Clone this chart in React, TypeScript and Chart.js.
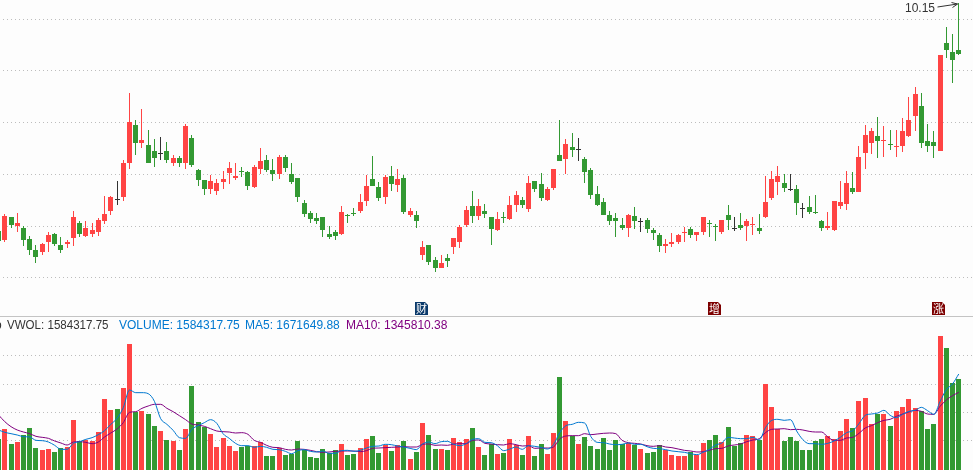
import React, { useEffect, useRef } from "react";
import { Chart, registerables } from "chart.js";

Chart.register(...registerables);

// Daily candles, prices
const opens = [
  5.59,5.41,5.87,5.69,5.65,5.43,5.21,5.17,5.37,5.53,
  5.31,5.33,5.45,5.75,5.49,5.53,5.57,5.79,5.99,6.23,
  6.27,6.95,7.71,7.35,7.31,7.19,7.15,7.19,6.95,7.05,
  6.95,7.45,6.81,6.61,6.43,6.39,6.57,6.75,6.65,6.79,
  6.77,6.47,6.83,7.01,6.81,6.73,7.07,6.73,6.65,6.15,
  5.95,5.85,5.87,5.53,5.57,5.53,5.91,5.95,5.99,6.19,
  6.63,6.47,6.27,6.69,6.51,6.65,5.91,5.91,5.11,5.31,
  5.01,4.85,5.05,5.27,5.37,5.71,6.09,5.89,5.99,5.87,
  5.61,5.87,5.83,6.11,6.21,6.03,6.59,6.53,6.21,6.45,
  7.11,7.03,7.27,7.23,7.03,6.81,6.33,6.17,5.91,5.85,
  5.71,5.65,5.89,5.79,5.81,5.61,5.51,5.29,5.33,5.37,
  5.55,5.63,5.51,5.57,5.75,5.69,5.57,5.91,5.65,5.71,
  5.69,5.71,5.65,5.87,6.25,6.57,6.55,6.43,6.43,6.05,
  6.07,5.97,5.79,5.65,5.61,6.09,6.13,6.45,6.37,7.15,
  7.35,7.49,7.39,7.33,7.27,7.29,7.49,7.89,8.09,7.39,
  7.37,7.19,9.35,9.17,9.21,
];
const highs = [
  5.59,5.93,5.87,5.95,5.69,5.49,5.31,5.35,5.57,5.55,
  5.47,5.41,5.99,5.79,5.79,5.75,5.85,6.29,6.29,6.59,
  7.01,8.35,7.81,8.03,7.61,7.43,7.47,7.37,7.11,7.09,
  7.73,7.51,6.83,6.61,6.71,6.63,6.79,6.97,6.95,6.87,
  6.79,6.91,7.25,7.11,7.03,7.11,7.11,6.95,6.65,6.21,
  5.99,5.95,5.87,5.69,5.61,6.09,5.93,6.05,6.33,6.71,
  7.09,6.57,6.71,6.89,6.83,6.71,6.05,5.99,5.39,5.31,
  5.07,5.11,5.13,5.45,5.71,6.09,6.39,6.23,6.13,5.87,
  5.97,5.97,6.29,6.39,6.27,6.69,6.59,6.75,6.47,6.83,
  7.81,7.43,7.55,7.45,7.07,6.85,6.49,6.25,5.99,5.95,
  5.85,5.93,6.07,5.85,5.85,5.65,5.55,5.43,5.55,5.53,
  5.67,5.67,5.57,5.87,5.81,5.73,5.81,6.11,5.87,5.95,
  5.83,5.87,5.93,6.69,6.79,6.89,6.73,6.73,6.51,6.15,
  6.29,6.31,5.81,5.97,6.19,6.59,6.79,6.77,7.29,7.71,
  7.65,7.87,7.69,7.61,7.61,7.85,8.27,8.47,8.35,7.73,
  7.59,9.11,9.67,9.53,10.15,
];
const lows = [
  5.39,5.37,5.65,5.57,5.29,5.11,4.95,5.11,5.17,5.29,
  5.15,5.25,5.29,5.47,5.47,5.47,5.49,5.73,5.91,6.11,
  6.19,6.83,7.11,7.25,6.95,6.87,7.01,6.95,6.89,6.87,
  6.83,6.87,6.49,6.31,6.33,6.31,6.43,6.53,6.61,6.67,
  6.41,6.45,6.73,6.77,6.59,6.63,6.77,6.53,6.17,5.87,
  5.75,5.73,5.47,5.43,5.41,5.51,5.75,5.89,5.95,6.09,
  6.49,6.19,6.13,6.39,6.37,5.93,5.87,5.65,5.01,4.91,
  4.77,4.85,4.87,5.13,5.25,5.67,5.75,5.81,5.85,5.31,
  5.59,5.75,5.81,5.97,6.05,5.97,6.37,6.19,6.19,6.41,
  6.99,6.73,7.07,6.99,6.55,6.23,6.09,5.91,5.71,5.47,
  5.61,5.47,5.63,5.57,5.55,5.41,5.17,5.15,5.27,5.33,
  5.37,5.45,5.39,5.51,5.47,5.39,5.53,5.61,5.59,5.61,
  5.39,5.51,5.53,5.85,6.21,6.31,6.37,6.39,5.91,5.85,
  5.93,5.93,5.59,5.61,5.59,6.03,6.01,6.33,6.37,6.83,
  7.13,7.05,7.07,7.21,7.07,7.17,7.47,7.59,7.25,7.17,
  7.05,7.19,9.05,8.55,9.11,
];
const closes = [
  5.39,5.89,5.71,5.75,5.41,5.21,5.07,5.33,5.51,5.33,
  5.21,5.37,5.87,5.53,5.65,5.61,5.81,5.93,6.27,6.23,
  6.95,7.77,7.35,7.41,6.95,7.05,7.15,7.01,7.05,6.95,
  7.69,6.91,6.61,6.43,6.59,6.55,6.63,6.85,6.69,6.77,
  6.49,6.87,6.99,6.81,6.73,7.07,6.85,6.57,6.27,5.93,
  5.83,5.79,5.61,5.47,5.49,5.97,5.89,5.93,6.17,6.49,
  6.49,6.25,6.67,6.53,6.63,5.97,5.99,5.79,5.27,4.97,
  4.85,4.95,4.99,5.45,5.67,6.01,5.89,6.09,5.93,5.63,
  5.83,5.85,6.11,6.31,6.11,6.55,6.43,6.25,6.43,6.83,
  6.99,7.33,7.21,7.23,6.77,6.31,6.11,5.91,5.79,5.79,
  5.65,5.91,5.79,5.79,5.63,5.55,5.29,5.33,5.37,5.51,
  5.57,5.51,5.57,5.87,5.73,5.67,5.81,5.81,5.65,5.65,
  5.79,5.73,5.59,6.17,6.63,6.69,6.45,6.43,6.15,6.05,
  5.97,5.95,5.65,5.69,6.19,6.17,6.55,6.37,7.07,7.51,
  7.59,7.39,7.41,7.31,7.29,7.59,7.81,8.33,7.35,7.29,
  7.29,9.11,9.21,9.01,9.13,
];

// Volume pane, in units of about 5.8k shares
const volumes = [
  93,123,78,84,105,126,66,60,63,54,
  65,69,150,87,90,87,114,213,180,183,
  246,378,174,177,168,132,117,90,87,60,
  123,252,144,129,108,69,96,72,57,69,
  72,72,84,42,42,66,45,48,87,60,
  39,36,63,51,60,78,45,48,66,93,
  102,51,75,57,75,87,33,54,141,105,
  63,63,60,96,84,93,126,69,45,78,
  48,51,93,75,45,102,42,78,48,111,
  279,147,102,78,99,72,63,96,60,90,
  78,81,75,63,51,54,75,60,45,42,
  42,54,45,81,90,105,84,129,72,81,
  105,102,90,258,189,123,87,99,87,60,
  60,87,93,102,93,117,153,126,207,216,
  138,168,168,132,177,189,213,186,177,123,
  138,402,366,261,273,
];
const ma5 = [
  120,113,109,105,100,99,89,88,84,74,
  62,62,80,85,92,97,106,118,137,155,
  187,240,232,232,229,206,154,137,119,97,
  95,122,133,142,151,140,109,95,80,73,
  73,68,71,68,62,61,56,49,58,61,
  56,54,57,50,50,58,59,56,59,66,
  71,72,77,76,72,69,65,61,78,84,
  79,85,86,77,73,79,92,94,83,82,
  73,58,63,69,62,73,71,68,63,76,
  112,133,137,143,141,100,83,82,78,76,
  77,81,77,77,70,65,64,61,57,55,
  53,49,46,53,62,75,81,98,96,94,
  94,98,90,127,149,152,149,151,117,91,
  79,79,77,80,87,98,112,118,139,164,
  168,171,179,164,157,167,176,179,188,178,
  167,205,241,258,288,
];
const ma10 = [
  165,145,130,120,114,109,101,98,95,87,
  81,75,84,85,83,79,84,99,111,123,
  142,173,175,185,192,197,197,185,175,163,
  151,138,135,131,124,117,115,114,111,112,
  107,89,83,74,68,67,62,60,63,62,
  59,55,53,54,56,57,57,57,55,58,
  65,66,67,68,69,70,69,69,77,78,
  74,75,74,78,79,79,89,90,80,78,
  76,75,79,76,72,73,65,66,66,69,
  93,102,103,103,109,106,108,110,111,109,
  89,82,80,78,73,71,73,69,67,63,
  59,57,54,55,59,64,65,72,75,78,
  85,90,94,112,122,123,124,121,122,120,
  116,114,114,99,89,89,96,98,110,126,
  133,142,149,152,161,168,174,179,176,168,
  167,191,210,223,233,
];

// Flat candles whose volume bar is red (the others are green)
const flatCandlesVolumeUp = [26, 93, 103];

const priceGridLines = [9.826, 8.806, 7.766, 6.726, 5.686, 4.666];
const volumeGridLines = [344.4, 257.4, 173.4, 89.4];

const markers = [
  { index: 68, label: "财", color: "#0b3a6b" },
  { index: 115, label: "增", color: "#7d0000" },
  { index: 151, label: "涨", color: "#7d0000" },
];
const legendTexts = [
  { text: "o", x: -5, color: "#333333", width: 0 },
  { text: "VWOL: 1584317.75", x: 7, color: "#333333", width: 101.5 },
  { text: "VOLUME: 1584317.75", x: 119, color: "#0078d0", width: 0 },
  { text: "MA5: 1671649.88", x: 245, color: "#0078d0", width: 0 },
  { text: "MA10: 1345810.38", x: 346, color: "#800080", width: 0 },
];
const maxLabel = "10.15";

const RED = "#ff4444";
const GREEN = "#339933";
const BLACK = "#333333";
const GRID = "#bdbdbd";
const FONT = '12px "Liberation Sans", Arial, sans-serif';

const candleColor = (i: number) =>
  closes[i] > opens[i] ? RED : closes[i] < opens[i] ? GREEN : BLACK;
const volumeColor = (i: number) => {
  if (closes[i] > opens[i]) return RED;
  if (closes[i] < opens[i]) return GREEN;
  return flatCandlesVolumeUp.includes(i) ? RED : GREEN;
};

const snapBars = {
  id: "snapBars",
  afterDatasetsUpdate(chart: any) {
    chart.data.datasets.forEach((_: any, d: number) => {
      const meta = chart.getDatasetMeta(d);
      if (meta.type !== "bar") return;
      meta.data.forEach((el: any) => {
        const left = Math.round(el.x - 2.5);
        const top = Math.round(Math.min(el.y, el.base));
        let bottom = Math.round(Math.max(el.y, el.base));
        if (bottom - top < 1) bottom = top + 1;
        el.x = left + 2.5;
        el.y = top;
        el.base = bottom;
        el.height = bottom - top;
      });
    });
  },
};

const paper = {
  id: "paper",
  beforeDraw(chart: any) {
    const { ctx, width, height } = chart;
    ctx.save();
    ctx.fillStyle = "#fdfdfd";
    ctx.fillRect(0, 0, width, height);
    ctx.restore();
  },
};

const decorations = {
  id: "decorations",
  afterDatasetsDraw(chart: any) {
    const { ctx, width, scales } = chart;
    ctx.save();
    // pane separator
    ctx.fillStyle = "#c4c4c4";
    ctx.fillRect(0, 316, width, 1);

    // legend
    ctx.font = FONT;
    ctx.textBaseline = "alphabetic";
    ctx.textAlign = "left";
    legendTexts.forEach((t) => {
      ctx.fillStyle = t.color;
      if (t.width) ctx.fillText(t.text, t.x, 329, t.width);
      else ctx.fillText(t.text, t.x, 329);
    });

    // event markers
    markers.forEach((m) => {
      const cx = Math.round(scales.x.getPixelForValue(m.index)) - 1;
      const l = cx - 7;
      const t = 302;
      ctx.fillStyle = m.color;
      ctx.beginPath();
      ctx.moveTo(l, t);
      ctx.lineTo(l + 10, t);
      ctx.lineTo(l + 13, t + 3);
      ctx.lineTo(l + 13, t + 13);
      ctx.lineTo(l, t + 13);
      ctx.closePath();
      ctx.fill();
      ctx.fillStyle = "#ffffff";
      ctx.font = '11px "Noto Sans CJK SC", sans-serif';
      ctx.textAlign = "center";
      ctx.textBaseline = "middle";
      ctx.fillText(m.label, l + 6.5, t + 6.5);
    });

    // highest price label and its arrow
    const last = highs.length - 1;
    const tipX = Math.round(scales.x.getPixelForValue(last)) - 1.5;
    const tipY = scales.y.getPixelForValue(highs[last]) + 1;
    ctx.font = FONT;
    ctx.textAlign = "right";
    ctx.textBaseline = "alphabetic";
    ctx.fillStyle = "#333333";
    ctx.fillText(maxLabel, tipX - 22.5, tipY + 8);
    ctx.strokeStyle = "#333333";
    ctx.lineWidth = 1;
    ctx.beginPath();
    ctx.moveTo(tipX - 20, tipY + 3);
    ctx.lineTo(tipX, tipY);
    ctx.moveTo(tipX - 6, tipY - 1.5);
    ctx.lineTo(tipX, tipY);
    ctx.lineTo(tipX - 5, tipY + 3.5);
    ctx.stroke();
    ctx.restore();
  },
};

const points = (values: number[]) => values.map((y, x) => ({ x, y }));

export default function App() {
  const ref = useRef<HTMLCanvasElement | null>(null);

  useEffect(() => {
    document.body.style.margin = "0";
    document.body.style.background = "#fdfdfd";
    const chart = new Chart(ref.current as HTMLCanvasElement, {
      type: "bar",
      data: {
        datasets: [
          {
            type: "line",
            label: "MA5",
            data: points(ma5),
            yAxisID: "yv",
            borderColor: "#0078d0",
            borderWidth: 1,
            pointRadius: 0,
            cubicInterpolationMode: "monotone",
            order: 0,
          },
          {
            type: "line",
            label: "MA10",
            data: points(ma10),
            yAxisID: "yv",
            borderColor: "#800080",
            borderWidth: 1,
            pointRadius: 0,
            cubicInterpolationMode: "monotone",
            order: 0,
          },
          {
            label: "Body",
            data: opens.map((o, i) => ({ x: i, y: [Math.min(o, closes[i]), Math.max(o, closes[i])] })),
            yAxisID: "y",
            backgroundColor: opens.map((_, i) => candleColor(i)),
            barThickness: 5,
            grouped: false,
            inflateAmount: 0,
            borderWidth: 0,
            order: 1,
          },
          {
            label: "Wick",
            data: highs.map((h, i) => ({ x: i, y: [lows[i], h] })),
            yAxisID: "y",
            backgroundColor: highs.map((_, i) => candleColor(i)),
            barThickness: 1,
            grouped: false,
            inflateAmount: 0,
            borderWidth: 0,
            order: 2,
          },
          {
            label: "Volume",
            data: points(volumes),
            yAxisID: "yv",
            backgroundColor: volumes.map((_, i) => volumeColor(i)),
            barThickness: 5,
            grouped: false,
            inflateAmount: 0,
            borderWidth: 0,
            order: 3,
          },
        ],
      } as any,
      options: {
        responsive: false,
        animation: false,
        maintainAspectRatio: false,
        events: [],
        layout: { padding: 0 },
        plugins: {
          legend: { display: false },
          tooltip: { enabled: false },
          title: { display: false },
        },
        scales: {
          x: { type: "linear", display: false, offset: false, min: 0.231, max: 156.285, grid: { display: false } },
          y: {
            type: "linear",
            position: "left",
            min: 0.81,
            max: 10.21,
            ticks: { display: false },
            border: { display: false, dash: [1, 3], dashOffset: 1 },
            grid: { color: GRID, drawTicks: false, lineWidth: 1 },
            afterBuildTicks(axis: any) {
              axis.ticks = priceGridLines.map((value) => ({ value }));
            },
            afterFit(axis: any) {
              axis.width = 0;
            },
          },
          yv: {
            type: "linear",
            position: "right",
            min: 0,
            max: 1410,
            ticks: { display: false },
            border: { display: false, dash: [1, 3], dashOffset: 1 },
            grid: { color: GRID, drawTicks: false, lineWidth: 1 },
            afterBuildTicks(axis: any) {
              axis.ticks = volumeGridLines.map((value) => ({ value }));
            },
            afterFit(axis: any) {
              axis.width = 0;
            },
          },
        },
      } as any,
      plugins: [paper, snapBars, decorations],
    });
    return () => chart.destroy();
  }, []);

  return (
    <div style={{ position: "absolute", left: 0, top: 0, width: 973, height: 470, overflow: "hidden" }}>
      <canvas ref={ref} width={973} height={470} style={{ display: "block" }} />
    </div>
  );
}
